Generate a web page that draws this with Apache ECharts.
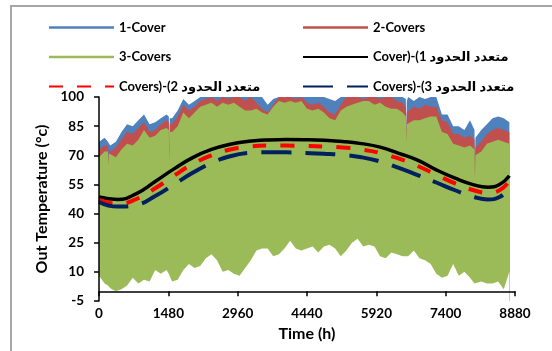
<!DOCTYPE html>
<html><head><meta charset="utf-8">
<script src="https://cdn.jsdelivr.net/npm/echarts@6/dist/echarts.min.js"></script>
<style>html,body{margin:0;padding:0;background:#fff}#c{width:552px;height:351px}</style>
</head><body><div id="c"></div>
<script>
const hours = [0,120,190,200,210,240,360,480,600,720,840,960,1080,1200,1320,1440,1490,1500,1510,1560,1680,1800,1920,2040,2160,2280,2400,2520,2640,2760,2880,3000,3120,3240,3360,3480,3600,3720,3840,3960,4080,4200,4320,4440,4560,4680,4800,4920,5040,5160,5280,5400,5520,5640,5760,5880,6000,6120,6240,6360,6480,6550,6560,6570,6600,6720,6840,6960,7080,7200,7320,7440,7560,7680,7800,7920,8015,8025,8035,8160,8280,8400,8520,8640,8760];
// daily minimum envelope (common to all covers)
const lowerEnv = [8,4,3,2,2,1.5,0,1,3,7,4,6,5,11,9,11,9,8,8,5,6,11,14,12,13,17,19,16,10,11,9,8,12,16,21,22,22,18,19,22,26,22,21,22,23,20,23,24,22,18,21,25,27,23,24,23,18,17,20,19,18,18,18,18,18,21,17,16,14,9,7,8,14,8,10,7,4,4,4,5,4,4,5,1,10];
// daily maximum envelopes
const top3Covers = [69,72,72,65,71,70,69,73,76,75,78,83,79,80,83,84,83,67,82,82,85,92,89,92,95,96,97,95,97,96,97,95,93,93,94,92,91,95,98,97,98,97,98,94,93,94,92,89,88,93,95,96,97,98,98,96,97,95,94,94,92,90,77,86,86,88,88,89,90,90,82,81,76,75,74,75,73,58,70,72,76,77,78,77,76];
const top2Covers = [73,75,75,66,74,72,74,78,82,81,84,87,82,83,86,88,87,67.5,86,86,90,96,93,95,98,99,100,98,100,99,100,100,98,100,97,94,92,96,100,100,100,99,100,97,96,97,95,92,91,96,100,100,100,99,100,100,99,100,100,98,97,95,78,92,93,95,94,96,95,95,88,87,81,81,79,80,78,60,74,77,81,83,84,83,82];
const top1Cover = [77,79,77,76,76,75,77,82,86,85,88,91,86,87,89,91,90,68,89,89,93,99,96,98,100,100,100,100,100,100,100,100,100,100,100,100,96,99,100,100,100,100,100,100,100,100,100,99,98,100,100,100,100,100,100,100,100,100,100,100,100,99,79,98,100,98,100,99,100,100,91,91,85,85,83,88,83,62,79,83,86,89,90,89,87];
// polynomial trend lines
const trendHours = [0,400,800,1200,1600,2000,2400,2800,3200,3600,4000,4400,4800,5200,5600,6000,6400,6800,7200,7600,8000,8300,8550,8760];
const poly1 = [48.5,47.3,50.3,56.5,63,68.8,73,75.7,77.2,77.9,78.1,78,77.7,77.1,76,74.2,71,67.5,62.5,58.2,54.8,53.6,55,59.5];
const poly2 = [47,45,47.5,53,59.5,65.5,70,73,74.5,75,75,74.8,74.5,74,73,71.2,68.3,64.5,60,55.5,52,50.7,52,57];
const poly3 = [46,43.6,44.5,49,55,61,66,69.5,71.2,71.6,71.5,71.2,70.8,70.2,69,66.8,63.5,59.8,56,52,48.6,47.3,48.5,54];
const xTicks = {min:0,max:8880,step:1480};
const yTicks = {min:-5,max:100,step:15};
const names = {c1:'1-Cover',c2:'2-Covers',c3:'3-Covers',p1:'Cover)-(1 متعدد الحدود',p2:'Covers)-(2 متعدد الحدود',p3:'Covers)-(3 متعدد الحدود'};

const pair = (xs, ys) => xs.map((x,i)=>[x, ys[i]]);
const FONT = "Lato, 'DejaVu Sans', sans-serif";
const band = (name, ys, color) => ({
  name, type:'line', data: pair(hours, ys), symbol:'none', showSymbol:false,
  lineStyle:{width:0, color}, itemStyle:{color},
  areaStyle:{color, opacity:1, origin:'start'}, silent:true, animation:false
});
const trend = (name, ys, color, type, width) => ({
  name, type:'line', data: pair(trendHours, ys), smooth:0.5, symbol:'none', showSymbol:false,
  lineStyle:{width, color, type, cap:'butt'}, itemStyle:{color}, z:5, animation:false
});
const chart = echarts.init(document.getElementById('c'), null, {renderer:'canvas'});
const legendText = {fontFamily:FONT, fontWeight:'bold', fontSize:13, color:'#000'};
const hideSym = {color:'rgba(0,0,0,0)', borderColor:'rgba(0,0,0,0)', borderWidth:0, opacity:0};
const legendCommon = {orient:'vertical', itemWidth:65, itemHeight:14, itemGap:16.5, textStyle:legendText, itemStyle:hideSym, selectedMode:false};
const barIcon = 'path://M0,0H65V2.6H0Z';
const bandLegend = (name, color) => ({name, icon:barIcon, itemStyle:{color, opacity:1, borderWidth:0}});
const axisLabel = {fontFamily:FONT, fontWeight:'bold', fontSize:13.5, color:'#000', formatter:v=>String(v)};
const axisName = {fontFamily:FONT, fontWeight:'bold', fontSize:16, color:'#000'};
chart.setOption({
  backgroundColor:'#fff',
  animation:false,
  graphic:[{type:'rect', shape:{x:11,y:6,width:600,height:400}, style:{fill:'none', stroke:'#a6a6a6', lineWidth:2}, silent:true}],
  legend:[
    Object.assign({left:43, top:16, data:[
      bandLegend(names.c1, '#4f81bd'),
      bandLegend(names.c3, '#9bbb59'),
      {name:names.p2}]}, legendCommon),
    Object.assign({left:297, top:16, data:[
      bandLegend(names.c2, '#c0504d'),
      {name:names.p1},
      {name:names.p3}]}, legendCommon)
  ],
  grid:{left:99, right:37, top:97, bottom:50, containLabel:false},
  xAxis:{type:'value', min:xTicks.min, max:xTicks.max, interval:xTicks.step, z:10,
    name:'Time (h)', nameLocation:'middle', nameGap:24, nameTextStyle:axisName,
    axisLine:{lineStyle:{color:'#000', width:1.5}}, axisTick:{length:5, lineStyle:{color:'#000', width:1.5}},
    axisLabel:Object.assign({margin:6}, axisLabel),
    splitLine:{show:false}},
  yAxis:{type:'value', min:yTicks.min, max:yTicks.max, interval:yTicks.step, z:10,
    name:'Out Temperature (°c)', nameLocation:'middle', nameGap:46, nameTextStyle:axisName,
    axisLine:{show:true, lineStyle:{color:'#000', width:1.5}}, axisTick:{show:true, length:5, lineStyle:{color:'#000', width:1.5}},
    axisLabel:Object.assign({margin:15}, axisLabel),
    splitLine:{show:false}},
  series:[
    band(names.c1, top1Cover, '#4f81bd'),
    band(names.c2, top2Covers, '#c0504d'),
    band(names.c3, top3Covers, '#9bbb59'),
    {name:'lower', type:'line', data: pair(hours, lowerEnv), symbol:'none', lineStyle:{width:0}, areaStyle:{color:'#fff', opacity:1, origin:'start'}, silent:true, animation:false},
    trend(names.p1, poly1, '#000000', 'solid', 3.5),
    trend(names.p2, poly2, '#ff0000', [14,14], 4),
    trend(names.p3, poly3, '#002060', [30,14], 4)
  ]
});
</script></body></html>
